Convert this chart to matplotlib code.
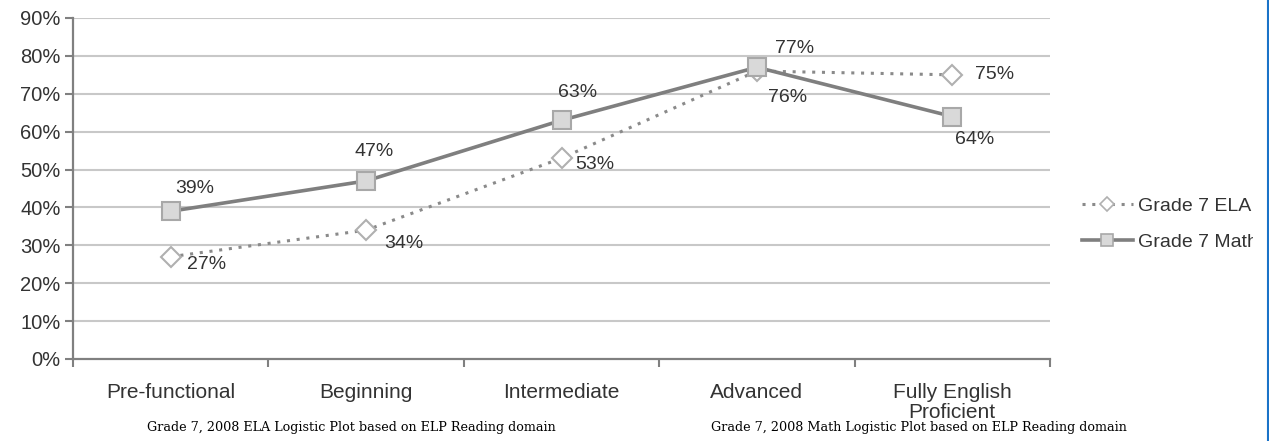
import matplotlib
matplotlib.use("Agg")
import matplotlib.pyplot as plt
from matplotlib.lines import Line2D
from matplotlib.transforms import Bbox

categories = ["Pre-functional", "Beginning", "Intermediate", "Advanced", "Fully English\nProficient"]
ela = [27, 34, 53, 76, 75]
math = [39, 47, 63, 77, 64]
yticks = [0, 10, 20, 30, 40, 50, 60, 70, 80, 90]
ytick_labels = [f"{v}%" for v in yticks]
series_names = ["Grade 7 ELA", "Grade 7 Math"]
captions = ["Grade 7, 2008 ELA Logistic Plot based on ELP Reading domain",
            "Grade 7, 2008 Math Logistic Plot based on ELP Reading domain"]

plt.rcParams['font.family'] = ['Liberation Sans', 'DejaVu Sans']

W, H = 1269, 441
fig = plt.figure(figsize=(W/100, H/100), dpi=100)
ax = fig.add_axes([73/W, 1-359/H, (1050-73)/W, (359-18)/H])

x = list(range(len(categories)))
ax.set_xlim(-0.5, len(categories)-0.5)
ax.set_ylim(0, 90)

for v in yticks[1:]:
    ax.axhline(v, color='#c8c8c8', lw=1.5, zorder=0)

ela_style = dict(linestyle=(0, (1, 2.2)), color='#8a8a8a', lw=2.2)
math_style = dict(linestyle='-', color='#7f7f7f', lw=2.6)
ax.plot(x, ela, **ela_style,
        marker='D', markersize=10.5, markerfacecolor='white',
        markeredgecolor='#b0b0b0', markeredgewidth=1.5, zorder=3)
ax.plot(x, math, **math_style,
        marker='s', markersize=13.5, markerfacecolor='#d9d9d9',
        markeredgecolor='#a8a8a8', markeredgewidth=1.5, zorder=4)

txtc = '#333333'
fs = 14
math_off = [(24, 23), (8, 29), (16, 28), (38, 19), (22, -23)]
ela_off = [(36, -8), (38, -13), (33, -6), (31, -26), (42, 0)]
for i, (v, o) in enumerate(zip(math, math_off)):
    ax.annotate(f"{v}%", (i, v), xytext=o, textcoords='offset pixels',
                ha='center', va='center', fontsize=fs, color=txtc, zorder=6)
for i, (v, o) in enumerate(zip(ela, ela_off)):
    ax.annotate(f"{v}%", (i, v), xytext=o, textcoords='offset pixels',
                ha='center', va='center', fontsize=fs, color=txtc, zorder=6)

ax.set_yticks(yticks)
ax.set_yticklabels(ytick_labels, fontsize=14.5, color=txtc)
ax.set_xticks(x)
ax.set_xticklabels(categories, fontsize=15, color=txtc, linespacing=1.1)
ax.tick_params(axis='x', length=0, pad=17)
ax.set_xticks([i - 0.5 for i in range(len(categories)+1)], minor=True)
ax.tick_params(axis='x', which='minor', length=6, width=1.5, color='#808080', direction='out')
ax.tick_params(axis='y', length=6, width=1.5, color='#808080', direction='out', pad=3)

for s in ['top', 'right']:
    ax.spines[s].set_visible(False)
for s in ['left', 'bottom']:
    ax.spines[s].set_color('#808080')
    ax.spines[s].set_linewidth(1.6)

handles = [
    Line2D([], [], **ela_style, marker='D', markersize=7, markerfacecolor='white',
           markeredgecolor='#b0b0b0', markeredgewidth=1.2),
    Line2D([], [], **math_style, marker='s', markersize=8.5, markerfacecolor='#d9d9d9',
           markeredgecolor='#a8a8a8', markeredgewidth=1.2),
]
leg = fig.legend(handles, series_names, loc='center left',
                 bbox_to_anchor=(1082/W, 1-224/H), frameon=False,
                 fontsize=14, handlelength=2.6, handletextpad=0.3, labelspacing=0.95,
                 labelcolor=txtc, borderpad=0, borderaxespad=0)
clip = Bbox([[0, 0], [1253, H]])
for t in leg.get_texts():
    t.set_clip_box(clip)
    t.set_clip_on(True)

fig.text(147/W, 1-428/H, captions[0], family='DejaVu Serif', fontsize=9.2,
         va='center', ha='left', color='black')
fig.text(711/W, 1-428/H, captions[1], family='DejaVu Serif', fontsize=9.2,
         va='center', ha='left', color='black')

fig.add_artist(Line2D([1267.5/W, 1267.5/W], [0, 1], color='#1a73c8', lw=1.5))

fig.savefig("out.png", dpi=100)
